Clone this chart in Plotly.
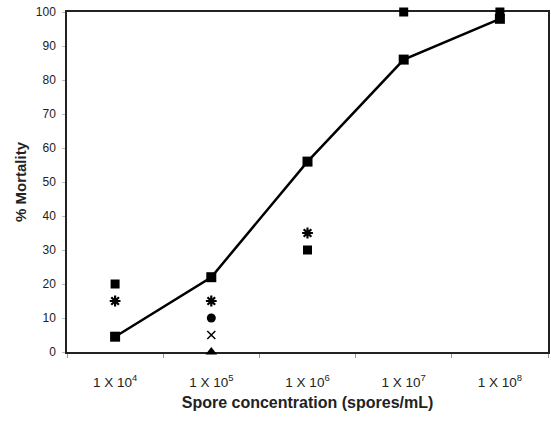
import plotly.graph_objects as go

categories = ["1 X 10<sup>4</sup>", "1 X 10<sup>5</sup>", "1 X 10<sup>6</sup>", "1 X 10<sup>7</sup>", "1 X 10<sup>8</sup>"]
mean_mortality = [4.5, 22, 56, 86, 98]
rep_square = [20, None, 30, 100, 100]
rep_asterisk = [15, 15, 35, None, None]
rep_circle = [None, 10, None, None, None]
rep_x = [None, 5, None, None, None]
rep_triangle = [None, 0, None, None, None]
y_ticks = list(range(0, 101, 10))

fig = go.Figure()

def scatter(vals, symbol, size, lw=0):
    fig.add_trace(go.Scatter(
        x=categories, y=vals, mode="markers", cliponaxis=False,
        marker=dict(symbol=symbol, size=size, color="black",
                    line=dict(color="black", width=lw)),
        showlegend=False))

scatter(rep_square, "square", 9)
scatter(rep_asterisk, "asterisk", 9, 2.2)
scatter(rep_circle, "circle", 9)
scatter(rep_x, "x-thin", 8, 1.5)
scatter(rep_triangle, "triangle-up", 10)

fig.add_trace(go.Scatter(
    x=categories, y=mean_mortality, mode="lines+markers", cliponaxis=False,
    line=dict(color="black", width=2.5),
    marker=dict(symbol="square", size=10, color="black"),
    showlegend=False))

fig.update_layout(
    width=551, height=422,
    margin=dict(l=67, r=3, t=12, b=70, autoexpand=False),
    paper_bgcolor="white", plot_bgcolor="white",
    font=dict(family="Liberation Sans, Arial, sans-serif", size=12, color="#222"),
)
fig.update_xaxes(
    type="category", range=[-0.5, 4.5], tickson="boundaries", ticks="outside", ticklen=4,
    tickcolor="#999", showline=True, linecolor="#222", linewidth=1.5, mirror=True,
    showgrid=False, tickfont=dict(size=13.5), ticklabelstandoff=17, automargin=False,
    layer="below traces",
    title=dict(text="<b>Spore concentration (spores/mL)</b>", font=dict(size=16), standoff=8),
)
fig.update_yaxes(
    range=[0, 100], tickvals=y_ticks, ticks="outside", ticklen=3, tickcolor="#bbb",
    showline=True, linecolor="#222", linewidth=1.5, mirror=True,
    showgrid=False, zeroline=False, tickfont=dict(size=12), ticklabelstandoff=4,
    automargin=False, layer="below traces",
    title=dict(text="<b>% Mortality</b>", font=dict(size=15), standoff=6),
)

fig.write_html("out.html", config={"displayModeBar": False},
               post_script="document.body.style.margin='0';document.body.style.overflow='hidden';")
